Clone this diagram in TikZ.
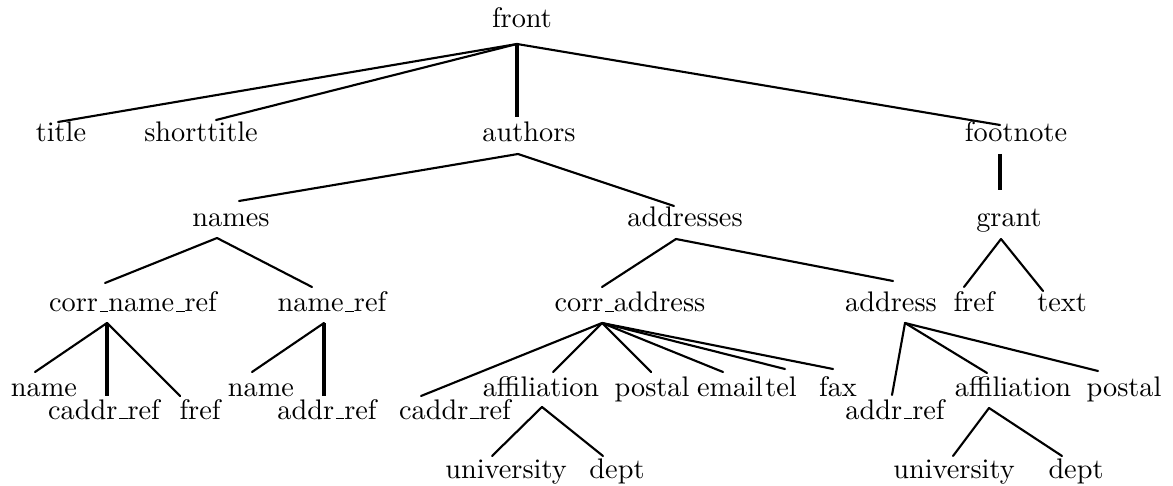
\documentclass[tikz,border=0pt]{standalone}
% narrow underscore, a short rule resting on the baseline
\newcommand{\usc}{\leavevmode\kern.06em\vbox{\hrule width.3em}}
\begin{document}
\begin{tikzpicture}[x=0.3533pt,y=-0.3533pt,
  lbl/.style={anchor=base,inner sep=0pt,font=\fontsize{10}{12}\selectfont},
  edge/.style={line width=0.75pt,line cap=round,line join=round},
  stem/.style={line width=1.1pt}]
\useasboundingbox (0,0) rectangle (1173,486);

% ---- element names, placed on their baselines ----
\node[lbl] (front)      at (522,28)  {front};

\node[lbl] (title)      at (61,142)  {title};
\node[lbl] (shorttitle) at (201,142) {shorttitle};
\node[lbl] (authors)    at (529,142) {authors};
\node[lbl] (footnote)   at (1016,142) {footnote};

\node[lbl] (names)      at (231,227) {names};
\node[lbl] (addresses)  at (685,227) {addresses};
\node[lbl] (grant)      at (1009,227) {grant};

\node[lbl] (cnref)      at (133,312) {corr\usc name\usc ref};
\node[lbl] (nref)       at (332,312) {name\usc ref};
\node[lbl] (caddress)   at (630,312) {corr\usc address};
\node[lbl] (address)    at (891,312) {address};
\node[lbl] (gfref)      at (974,312) {fref};
\node[lbl] (gtext)      at (1062,312) {text};

\node[lbl] (name1)      at (44,396)  {name};
\node[lbl] (caddr1)     at (104,419) {caddr\usc ref};
\node[lbl] (fref1)      at (200,419) {fref};
\node[lbl] (name2)      at (261,396) {name};
\node[lbl] (addr1)      at (327,419) {addr\usc ref};
\node[lbl] (caddr2)     at (455,419) {caddr\usc ref};
\node[lbl] (aff1)       at (541,396) {affiliation};
\node[lbl] (postal1)    at (652,396) {postal};
\node[lbl] (email)      at (730,396) {email};
\node[lbl] (tel)        at (781,396) {tel};
\node[lbl] (fax)        at (838,396) {fax};
\node[lbl] (addr2)      at (895,419) {addr\usc ref};
\node[lbl] (aff2)       at (1013,396) {affiliation};
\node[lbl] (postal2)    at (1124,396) {postal};

\node[lbl] (univ1)      at (506,478) {university};
\node[lbl] (dept1)      at (617,478) {dept};
\node[lbl] (univ2)      at (954,478) {university};
\node[lbl] (dept2)      at (1076,478) {dept};

% ---- branch points below each parent ----
\coordinate (front-b)    at (517,44);
\coordinate (authors-b)  at (518,154);
\coordinate (footnote-b) at (1000,154);
\coordinate (names-b)    at (217,238);
\coordinate (addresses-b) at (676,239);
\coordinate (grant-b)    at (1001,239);
\coordinate (cnref-b)    at (107,323);
\coordinate (nref-b)     at (324,323);
\coordinate (caddress-b) at (602,323);
\coordinate (address-b)  at (905,323);
\coordinate (aff1-b)     at (542,407);
\coordinate (aff2-b)     at (989,408);

% ---- line ends above each child ----
\coordinate (title-t)      at (58,122);
\coordinate (shorttitle-t) at (216,120);
\coordinate (authors-t)    at (517,117);
\coordinate (footnote-t)   at (1000,125);
\coordinate (names-t)      at (239,201);
\coordinate (addresses-t)  at (674,206);
\coordinate (grant-t)      at (1000,190);
\coordinate (cnref-t)      at (105,283);
\coordinate (nref-t)       at (312,287);
\coordinate (caddress-t)   at (602,287);
\coordinate (address-t)    at (893,281);
\coordinate (gfref-t)      at (964,287);
\coordinate (gtext-t)      at (1043,291);
\coordinate (name1-t)      at (35,372);
\coordinate (caddr1-t)     at (107,396);
\coordinate (fref1-t)      at (180,396);
\coordinate (name2-t)      at (252,372);
\coordinate (addr1-t)      at (324,396);
\coordinate (caddr2-t)     at (421,396);
\coordinate (aff1-t)       at (553,372);
\coordinate (postal1-t)    at (651,372);
\coordinate (email-t)      at (723,372);
\coordinate (tel-t)        at (785,369);
\coordinate (fax-t)        at (833,369);
\coordinate (addr2-t)      at (892,395);
\coordinate (aff2-t)       at (987,373);
\coordinate (postal2-t)    at (1098,371);
\coordinate (univ1-t)      at (492,456);
\coordinate (dept1-t)      at (603,456);
\coordinate (univ2-t)      at (953,456);
\coordinate (dept2-t)      at (1062,456);

% ---- slanted branches ----
\foreach \p/\c in {front/title, front/shorttitle, front/footnote,
                   authors/names, authors/addresses,
                   names/cnref, names/nref,
                   addresses/caddress, addresses/address,
                   grant/gfref, grant/gtext,
                   cnref/name1, cnref/fref1,
                   nref/name2,
                   caddress/caddr2, caddress/aff1, caddress/postal1,
                   caddress/email, caddress/tel, caddress/fax,
                   address/addr2, address/aff2, address/postal2,
                   aff1/univ1, aff1/dept1, aff2/univ2, aff2/dept2}
  \draw[edge] (\p-b) -- (\c-t);

% ---- vertical branches ----
\foreach \p/\c in {front/authors, footnote/grant, cnref/caddr1, nref/addr1}
  \draw[stem] (\p-b) -- (\c-t);
\end{tikzpicture}
\end{document}
